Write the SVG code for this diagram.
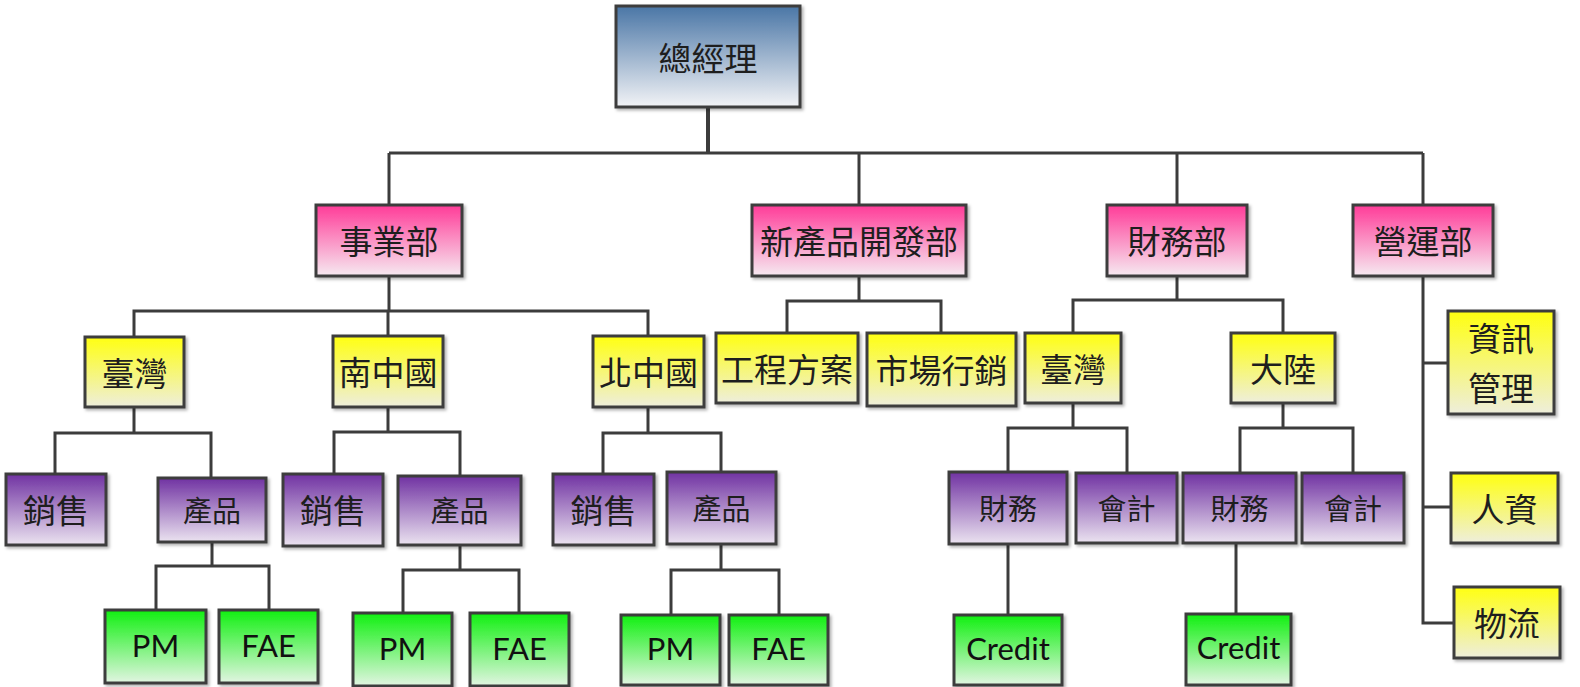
<svg xmlns="http://www.w3.org/2000/svg" width="1580" height="687" viewBox="0 0 1580 687">
<defs>
<linearGradient id="gBlue" x1="0" y1="0" x2="0" y2="1"><stop offset="0" stop-color="#4a76a6"/><stop offset="1" stop-color="#f2f3f6"/></linearGradient>
<linearGradient id="gPink" x1="0" y1="0" x2="0" y2="1"><stop offset="0" stop-color="#ff3b98"/><stop offset="1" stop-color="#f6eaf1"/></linearGradient>
<linearGradient id="gYellow" x1="0" y1="0" x2="0" y2="1"><stop offset="0" stop-color="#ffff10"/><stop offset="1" stop-color="#eeeedc"/></linearGradient>
<linearGradient id="gPurple" x1="0" y1="0" x2="0" y2="1"><stop offset="0" stop-color="#7032a2"/><stop offset="1" stop-color="#ebe3f0"/></linearGradient>
<linearGradient id="gGreen" x1="0" y1="0" x2="0" y2="1"><stop offset="0" stop-color="#10f010"/><stop offset="1" stop-color="#e2f5e2"/></linearGradient>
<filter id="sh" x="-10%" y="-10%" width="130%" height="130%"><feDropShadow dx="2" dy="2" stdDeviation="1.5" flood-color="#000" flood-opacity="0.3"/></filter>
</defs>
<style>
rect{stroke:#3c3c3c;stroke-width:3;filter:url(#sh)}
.b{fill:url(#gBlue)}.p{fill:url(#gPink)}.y{fill:url(#gYellow)}.v{fill:url(#gPurple)}.g{fill:url(#gGreen)}
text{font-family:"Noto Sans CJK TC","Noto Sans CJK SC",sans-serif;font-size:33px;fill:#1e1e1e;text-anchor:middle;dominant-baseline:central}
.s{font-size:29px}
.l{font-family:Lato,"Open Sans",sans-serif;font-size:31px;fill:#111}
.c path{fill:none;stroke:#3c3c3c;stroke-width:3}
</style>
<rect width="1580" height="687" fill="#fff" style="stroke:none;filter:none"/>
<g class="c" id="connectors">
<path d="M708,107V153" style="stroke-width:4"/>
<path d="M389,153H1423M389,153V205M859,153V205M1177,153V205M1423,153V205"/>
<path d="M389,276V311M134,337V311H648V336M388,311V336"/>
<path d="M859,276V301M787,333V301H941V333"/>
<path d="M1177,276V300M1073,333V300H1283V333"/>
<path d="M1423,276V623H1454M1423,363H1448M1423,507H1451"/>
<path d="M134,407V433M55,474V433H211V478"/>
<path d="M388,407V432M334,474V432H460V476"/>
<path d="M648,407V433M603,474V433H721V472"/>
<path d="M212,542V566M156,610V566H269V610"/>
<path d="M460,545V570M403,613V570H519V613"/>
<path d="M721,544V570M671,615V570H779V615"/>
<path d="M1073,403V428M1008,472V428H1127V473"/>
<path d="M1283,403V428M1240,473V428H1353V473"/>
<path d="M1008,544V615"/>
<path d="M1236,543V614"/>
</g>
<g id="gm"><rect class="b" x="616" y="6" width="184" height="101"/><text x="708" y="57">總經理</text></g>
<g id="biz"><rect class="p" x="316" y="205" width="146" height="71"/><text x="389" y="240">事業部</text></g>
<g id="npd"><rect class="p" x="752" y="205" width="214" height="71"/><text x="859" y="240">新產品開發部</text></g>
<g id="fin"><rect class="p" x="1107" y="205" width="140" height="71"/><text x="1177" y="240">財務部</text></g>
<g id="ops"><rect class="p" x="1353" y="205" width="140" height="71"/><text x="1423" y="240">營運部</text></g>
<g id="tw1"><rect class="y" x="85" y="337" width="99" height="70"/><text x="134.5" y="372">臺灣</text></g>
<g id="sc"><rect class="y" x="333" y="336" width="110" height="71"/><text x="388" y="371">南中國</text></g>
<g id="nc"><rect class="y" x="593" y="336" width="111" height="71"/><text x="648.5" y="371">北中國</text></g>
<g id="eng"><rect class="y" x="716" y="333" width="142" height="70"/><text x="787" y="368">工程方案</text></g>
<g id="mkt"><rect class="y" x="867" y="333" width="149" height="73"/><text x="941.5" y="369">市場行銷</text></g>
<g id="tw2"><rect class="y" x="1025" y="333" width="96" height="70"/><text x="1073" y="368">臺灣</text></g>
<g id="cn"><rect class="y" x="1231" y="333" width="104" height="70"/><text x="1283" y="368">大陸</text></g>
<g id="it"><rect class="y" x="1448" y="311" width="106" height="103"/><text x="1501" y="337">資訊</text><text x="1501" y="387">管理</text></g>
<g id="hr"><rect class="y" x="1451" y="473" width="107" height="70"/><text x="1504.5" y="508">人資</text></g>
<g id="log"><rect class="y" x="1454" y="587" width="106" height="71"/><text x="1507" y="622">物流</text></g>
<g id="sales1"><rect class="v" x="6" y="474" width="100" height="71"/><text x="56" y="509">銷售</text></g>
<g id="prod1"><rect class="v" x="158" y="478" width="108" height="64"/><text class="s" x="212" y="509">產品</text></g>
<g id="sales2"><rect class="v" x="283" y="474" width="100" height="72"/><text x="333" y="509">銷售</text></g>
<g id="prod2"><rect class="v" x="398" y="476" width="123" height="69"/><text class="s" x="459.5" y="509">產品</text></g>
<g id="sales3"><rect class="v" x="553" y="474" width="101" height="71"/><text x="603.5" y="509">銷售</text></g>
<g id="prod3"><rect class="v" x="667" y="472" width="109" height="72"/><text class="s" x="721.5" y="507">產品</text></g>
<g id="fin1"><rect class="v" x="949" y="472" width="118" height="72"/><text class="s" x="1008" y="507">財務</text></g>
<g id="acc1"><rect class="v" x="1076" y="473" width="101" height="70"/><text class="s" x="1126.5" y="507">會計</text></g>
<g id="fin2"><rect class="v" x="1183" y="473" width="113" height="70"/><text class="s" x="1239.5" y="507">財務</text></g>
<g id="acc2"><rect class="v" x="1302" y="473" width="102" height="70"/><text class="s" x="1353" y="507">會計</text></g>
<g id="pm1"><rect class="g" x="105" y="610" width="101" height="73"/><text class="l" x="155.5" y="645">PM</text></g>
<g id="fae1"><rect class="g" x="219" y="610" width="99" height="73"/><text class="l" x="268.5" y="645">FAE</text></g>
<g id="pm2"><rect class="g" x="353" y="613" width="99" height="73"/><text class="l" x="402.5" y="648">PM</text></g>
<g id="fae2"><rect class="g" x="470" y="613" width="99" height="73"/><text class="l" x="519.5" y="648">FAE</text></g>
<g id="pm3"><rect class="g" x="621" y="615" width="99" height="70"/><text class="l" x="670.5" y="648">PM</text></g>
<g id="fae3"><rect class="g" x="729" y="615" width="99" height="70"/><text class="l" x="778.5" y="648">FAE</text></g>
<g id="credit1"><rect class="g" x="954" y="615" width="108" height="70"/><text class="l" x="1008" y="648">Credit</text></g>
<g id="credit2"><rect class="g" x="1186" y="614" width="105" height="71"/><text class="l" x="1238.5" y="647">Credit</text></g>
</svg>
